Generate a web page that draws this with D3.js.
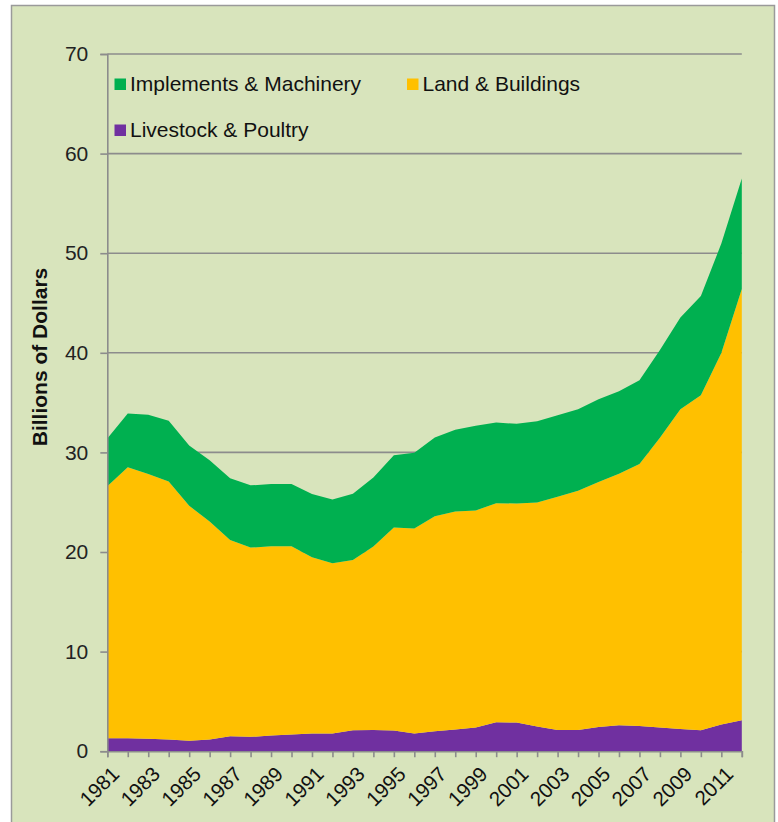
<!DOCTYPE html>
<html>
<head>
<meta charset="utf-8">
<script src="https://cdn.jsdelivr.net/npm/d3@7"></script>
<style>
  html, body { margin: 0; padding: 0; background: #ffffff; }
  svg { display: block; font-family: "Liberation Sans", Arial, sans-serif; }
</style>
</head>
<body>
<svg id="chart" width="778" height="822"></svg>
<script>
// Farm asset values, billions of dollars
const years = d3.range(1981, 2013);
const livestock = [1.30, 1.30, 1.24, 1.17, 1.04, 1.17, 1.50, 1.44, 1.57, 1.67, 1.77, 1.77, 2.10, 2.14, 2.07, 1.77,
                   2.00, 2.17, 2.37, 2.90, 2.87, 2.47, 2.14, 2.14, 2.44, 2.60, 2.54, 2.37, 2.24, 2.10, 2.67, 3.10];
const land =      [25.3, 27.2, 26.6, 25.9, 23.6, 21.9, 19.7, 19.0, 19.0, 18.9, 17.7, 17.1, 17.1, 18.4, 20.4, 20.6,
                   21.6, 21.9, 21.8, 22.0, 22.0, 22.5, 23.4, 24.0, 24.6, 25.25, 26.3, 29.1, 32.1, 33.65, 37.3, 43.3];
const machinery = [4.8, 5.4, 5.95, 6.1, 6.06, 6.15, 6.2, 6.25, 6.25, 6.25, 6.35, 6.4, 6.65, 6.95, 7.25, 7.6,
                   7.9, 8.2, 8.5, 8.1, 8.0, 8.15, 8.2, 8.2, 8.3, 8.3, 8.4, 8.8, 9.2, 9.95, 11.0, 11.1];
const yTicks = [0, 10, 20, 30, 40, 50, 60, 70];
const xLabelYears = years.filter((y, i) => i % 2 === 0);

const seriesKeys = ["livestock", "land", "machinery"];
const seriesNames = {
  machinery: "Implements & Machinery",
  land: "Land & Buildings",
  livestock: "Livestock & Poultry"
};
const seriesColors = { livestock: "#7030a0", land: "#ffc000", machinery: "#00b050" };

const rows = years.map((y, i) => ({ year: y, livestock: livestock[i], land: land[i], machinery: machinery[i] }));

const svg = d3.select("#chart");
const gridColor = "#8c8c8c";

// Chart background panel with border
svg.append("rect")
  .attr("x", 11.5).attr("y", 5.5)
  .attr("width", 763).attr("height", 830)
  .attr("fill", "#d8e4bc")
  .attr("stroke", "#9a9a9a")
  .attr("stroke-width", 1.5);

const x = d3.scaleLinear().domain([1981, 2012]).range([107.3, 741.8]);
const y = d3.scaleLinear().domain([0, 70]).range([751.2, 54]);

// Horizontal gridlines
svg.append("g")
  .selectAll("line")
  .data(yTicks.filter(t => t > 0))
  .join("line")
  .attr("x1", x(1981)).attr("x2", x(2012))
  .attr("y1", d => y(d)).attr("y2", d => y(d))
  .attr("stroke", gridColor)
  .attr("stroke-width", 1.6);

// Stacked areas
const stack = d3.stack().keys(seriesKeys);
const layers = stack(rows);
const area = d3.area()
  .x(d => x(d.data.year))
  .y0(d => y(d[0]))
  .y1(d => y(d[1]));

svg.append("g")
  .selectAll("path")
  .data(layers)
  .join("path")
  .attr("d", area)
  .attr("fill", d => seriesColors[d.key]);

// Y axis
const yAxis = d3.axisLeft(y).tickValues(yTicks).tickSize(7).tickPadding(12).tickFormat(d3.format("d"));
const gy = svg.append("g").attr("transform", `translate(${x(1981)},0)`).call(yAxis);
gy.select(".domain").attr("stroke", gridColor).attr("stroke-width", 1.6);
gy.selectAll(".tick line").attr("stroke", gridColor).attr("stroke-width", 1.6);
gy.selectAll(".tick text")
  .attr("font-size", 21)
  .attr("fill", "#222")
  .attr("font-family", "Liberation Sans, Arial, sans-serif");

// X axis
const xAxis = d3.axisBottom(x).tickValues(years).tickSize(6).tickFormat("");
const gx = svg.append("g").attr("transform", `translate(0,${y(0)})`).call(xAxis);
gx.select(".domain").attr("stroke", gridColor).attr("stroke-width", 1.6);
gx.selectAll(".tick line").attr("stroke", gridColor).attr("stroke-width", 1.6);

// Rotated year labels
svg.append("g")
  .selectAll("text")
  .data(xLabelYears)
  .join("text")
  .attr("transform", d => `translate(${x(d) + 3},${y(0) + 14}) rotate(-45)`)
  .attr("text-anchor", "end")
  .attr("dy", "0.7em")
  .attr("font-size", 20.5)
  .attr("fill", "#111")
  .text(d => d);

// Y axis title
svg.append("text")
  .attr("transform", `translate(46.5,357) rotate(-90)`)
  .attr("text-anchor", "middle")
  .attr("font-size", 21)
  .attr("font-weight", "bold")
  .attr("fill", "#111")
  .text("Billions of Dollars");

// Legend
const legendItems = [
  { key: "machinery", x: 114.5, y: 78.5 },
  { key: "land", x: 407, y: 78.5 },
  { key: "livestock", x: 114.5, y: 124.5 }
];
const lg = svg.append("g").selectAll("g").data(legendItems).join("g")
  .attr("transform", d => `translate(${d.x},${d.y})`);
lg.append("rect")
  .attr("width", 11.5).attr("height", 11.5)
  .attr("fill", d => seriesColors[d.key]);
lg.append("text")
  .attr("x", 15.5).attr("y", 12.5)
  .attr("font-size", 21)
  .attr("fill", "#111")
  .text(d => seriesNames[d.key]);
</script>
</body>
</html>
